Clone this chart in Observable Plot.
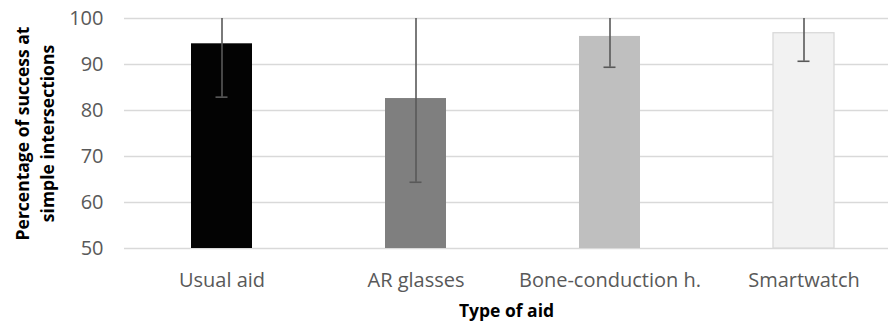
<!DOCTYPE html>
<html>
<head>
<meta charset="utf-8">
<script src="https://cdn.jsdelivr.net/npm/d3@7"></script>
<script src="https://cdn.jsdelivr.net/npm/@observablehq/plot@0.6"></script>
<style>
  html, body { margin: 0; padding: 0; background: #fff; }
</style>
</head>
<body>
<div id="chart"></div>
<script>
const categories = ["Usual aid", "AR glasses", "Bone-conduction h.", "Smartwatch"];
const means = [94.5, 82.6, 96.1, 96.8];
const errors = [11.6, 18.2, 6.7, 6.1];
const fills = ["#030303", "#7f7f7f", "#bfbfbf", "#f2f2f2"];
const strokes = ["none", "none", "none", "#d9d9d9"];
const yTicks = [50, 60, 70, 80, 90, 100];
const yTitle = "Percentage of success at\nsimple intersections";
const xTitle = "Type of aid";

const data = categories.map((c, i) => ({
  cat: c, mean: means[i], lo: means[i] - errors[i], hi: means[i] + errors[i],
  fill: fills[i], stroke: strokes[i]
}));

const chart = Plot.plot({
  width: 888,
  height: 327,
  marginLeft: 124,
  marginRight: 0,
  marginTop: 18,
  marginBottom: 79,
  style: { fontFamily: "'Open Sans', sans-serif", fontSize: "20px", color: "#595959", background: "#fff" },
  x: { domain: categories, range: [124, 900], paddingInner: 0.686, paddingOuter: 0.343, label: null },
  y: { domain: [50, 100], label: null },
  marks: [
    Plot.ruleY(yTicks, { stroke: "#d9d9d9", strokeWidth: 1.3 }),
    Plot.barY(data, { x: "cat", y1: 50, y2: "mean", fill: "fill", stroke: "stroke", strokeWidth: 1.3 }),
    Plot.ruleX(data, { x: "cat", y1: "lo", y2: "hi", stroke: "#595959", strokeWidth: 1.6, clip: true }),
    Plot.tickY(data, { x: "cat", y: "lo", stroke: "#595959", strokeWidth: 1.6, insetLeft: 24.5, insetRight: 24.5 }),
    Plot.axisY({ ticks: yTicks, tickSize: 0, tickPadding: 21, fontSize: 20, label: null }),
    Plot.axisX({ tickSize: 0, tickPadding: 24, fontSize: 20, label: null }),
    Plot.text([yTitle], { frameAnchor: "left", textAnchor: "middle", dx: -91.5, rotate: -90, lineHeight: 1.43,
      fontSize: 17.5, fontWeight: "bold", fill: "#000" }),
    Plot.text([xTitle], { frameAnchor: "bottom", dy: 68, fontSize: 17.5, fontWeight: "bold", fill: "#000" })
  ]
});
document.getElementById("chart").appendChild(chart);
</script>
</body>
</html>
